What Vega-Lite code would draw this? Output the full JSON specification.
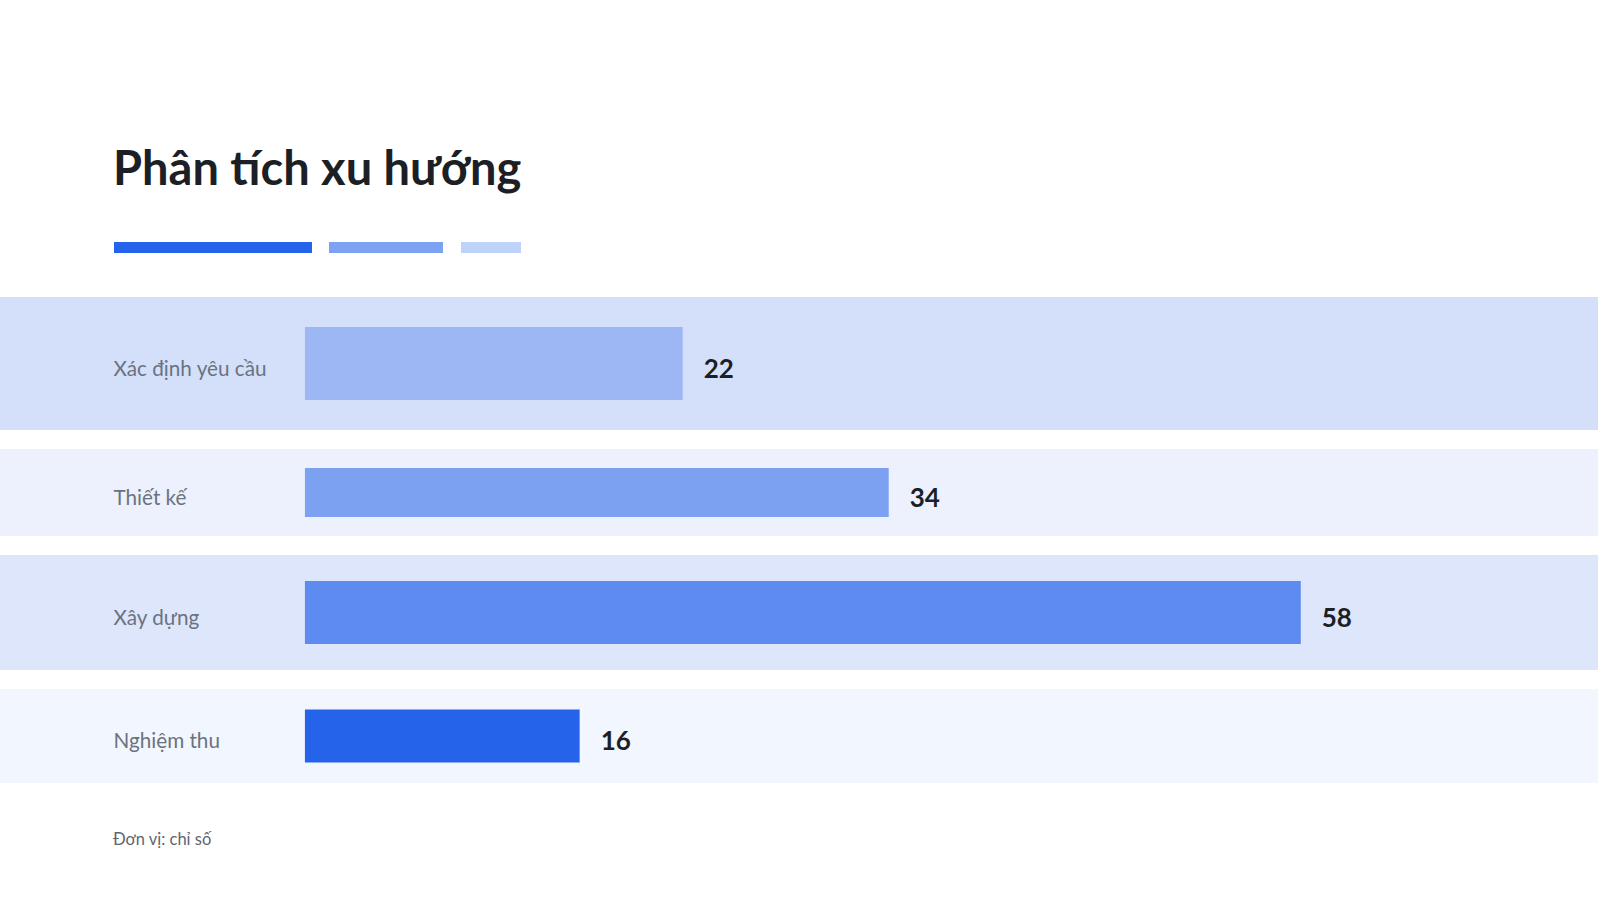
{
  "$schema": "https://vega.github.io/schema/vega-lite/v6.json",
  "background": "#ffffff",
  "padding": {"left": 0, "right": 0, "top": 147, "bottom": 0},
  "title": {
    "text": "Phân tích xu hướng",
    "anchor": "start",
    "dx": 113,
    "offset": 47,
    "font": "Lato",
    "fontSize": 47,
    "fontWeight": "bold",
    "color": "#1c1f26"
  },
  "datasets": {
    "stages": [
      {"stage": "Xác định yêu cầu", "value": 22},
      {"stage": "Thiết kế", "value": 34},
      {"stage": "Xây dựng", "value": 58},
      {"stage": "Nghiệm thu", "value": 16}
    ],
    "accent": [
      {"seg": "a", "from": 114, "to": 312},
      {"seg": "b", "from": 329, "to": 443},
      {"seg": "c", "from": 461, "to": 521}
    ]
  },
  "spacing": 44,
  "resolve": {"scale": {"x": "independent", "y": "independent"}},
  "vconcat": [
    {
      "data": {"name": "accent"},
      "width": 1598,
      "height": 11,
      "mark": "rect",
      "encoding": {
        "x": {"field": "from", "type": "quantitative", "scale": {"domain": [0, 1598], "nice": false, "zero": false}, "axis": null},
        "x2": {"field": "to"},
        "fill": {"field": "seg", "type": "nominal", "scale": {"domain": ["a", "b", "c"], "range": ["#2563EB", "#7DA2F1", "#BFD2FA"]}, "legend": null}
      }
    },
    {
      "data": {"name": "stages"},
      "spacing": 19,
      "resolve": {"scale": {"x": "independent", "y": "independent"}},
      "title": {
        "text": "Đơn vị: chỉ số",
        "orient": "bottom",
        "anchor": "start",
        "dx": 113,
        "offset": 49,
        "font": "Lato",
        "fontSize": 16.5,
        "fontWeight": "normal",
        "color": "#5f6571"
      },
      "vconcat": [
        {
          "width": 1598,
          "height": 133,
          "view": {"fill": "#D4DFFA", "stroke": null},
          "transform": [{"filter": "datum.stage === 'Xác định yêu cầu'"}],
          "encoding": {
            "y": {"field": "stage", "type": "nominal", "title": null, "scale": {"paddingInner": 0, "paddingOuter": 0},
              "axis": {"orient": "left", "offset": -113, "domain": false, "ticks": false, "tickSize": 0, "labelPadding": 0, "labelOffset": 6, "labelAlign": "left", "labelFont": "Lato", "labelFontSize": 20.7, "labelColor": "#6B7280", "labelLimit": 300}},
            "x": {"field": "value", "type": "quantitative", "scale": {"domain": [-17.76, 75.31], "nice": false}, "axis": null}
          },
          "layer": [
            {"mark": {"type": "bar", "height": {"band": 0.55}},
             "encoding": {"x2": {"datum": 0}, "color": {"field": "stage", "type": "nominal", "scale": {"domain": ["Xác định yêu cầu", "Thiết kế", "Xây dựng", "Nghiệm thu"], "range": ["#9DB7F5", "#7BA1F0", "#5D8BEF", "#2563EB"]}, "legend": null}}},
            {"mark": {"type": "text", "align": "left", "baseline": "middle", "dx": 21, "dy": 6, "font": "Lato", "fontSize": 26, "fontWeight": "bold", "color": "#1c1f26"},
             "encoding": {"text": {"field": "value"}}}
          ]
        },
        {
          "width": 1598,
          "height": 87,
          "view": {"fill": "#ECF1FD", "stroke": null},
          "transform": [{"filter": "datum.stage === 'Thiết kế'"}],
          "encoding": {
            "y": {"field": "stage", "type": "nominal", "title": null, "scale": {"paddingInner": 0, "paddingOuter": 0},
              "axis": {"orient": "left", "offset": -113, "domain": false, "ticks": false, "tickSize": 0, "labelPadding": 0, "labelOffset": 6, "labelAlign": "left", "labelFont": "Lato", "labelFontSize": 20.7, "labelColor": "#6B7280", "labelLimit": 300}},
            "x": {"field": "value", "type": "quantitative", "scale": {"domain": [-17.76, 75.31], "nice": false}, "axis": null}
          },
          "layer": [
            {"mark": {"type": "bar", "height": {"band": 0.563}},
             "encoding": {"x2": {"datum": 0}, "color": {"field": "stage", "type": "nominal", "scale": {"domain": ["Xác định yêu cầu", "Thiết kế", "Xây dựng", "Nghiệm thu"], "range": ["#9DB7F5", "#7BA1F0", "#5D8BEF", "#2563EB"]}, "legend": null}}},
            {"mark": {"type": "text", "align": "left", "baseline": "middle", "dx": 21, "dy": 6, "font": "Lato", "fontSize": 26, "fontWeight": "bold", "color": "#1c1f26"},
             "encoding": {"text": {"field": "value"}}}
          ]
        },
        {
          "width": 1598,
          "height": 115,
          "view": {"fill": "#DDE6FB", "stroke": null},
          "transform": [{"filter": "datum.stage === 'Xây dựng'"}],
          "encoding": {
            "y": {"field": "stage", "type": "nominal", "title": null, "scale": {"paddingInner": 0, "paddingOuter": 0},
              "axis": {"orient": "left", "offset": -113, "domain": false, "ticks": false, "tickSize": 0, "labelPadding": 0, "labelOffset": 6, "labelAlign": "left", "labelFont": "Lato", "labelFontSize": 20.7, "labelColor": "#6B7280", "labelLimit": 300}},
            "x": {"field": "value", "type": "quantitative", "scale": {"domain": [-17.76, 75.31], "nice": false}, "axis": null}
          },
          "layer": [
            {"mark": {"type": "bar", "height": {"band": 0.548}},
             "encoding": {"x2": {"datum": 0}, "color": {"field": "stage", "type": "nominal", "scale": {"domain": ["Xác định yêu cầu", "Thiết kế", "Xây dựng", "Nghiệm thu"], "range": ["#9DB7F5", "#7BA1F0", "#5D8BEF", "#2563EB"]}, "legend": null}}},
            {"mark": {"type": "text", "align": "left", "baseline": "middle", "dx": 21, "dy": 6, "font": "Lato", "fontSize": 26, "fontWeight": "bold", "color": "#1c1f26"},
             "encoding": {"text": {"field": "value"}}}
          ]
        },
        {
          "width": 1598,
          "height": 94,
          "view": {"fill": "#F2F6FE", "stroke": null},
          "transform": [{"filter": "datum.stage === 'Nghiệm thu'"}],
          "encoding": {
            "y": {"field": "stage", "type": "nominal", "title": null, "scale": {"paddingInner": 0, "paddingOuter": 0},
              "axis": {"orient": "left", "offset": -113, "domain": false, "ticks": false, "tickSize": 0, "labelPadding": 0, "labelOffset": 6, "labelAlign": "left", "labelFont": "Lato", "labelFontSize": 20.7, "labelColor": "#6B7280", "labelLimit": 300}},
            "x": {"field": "value", "type": "quantitative", "scale": {"domain": [-17.76, 75.31], "nice": false}, "axis": null}
          },
          "layer": [
            {"mark": {"type": "bar", "height": {"band": 0.564}},
             "encoding": {"x2": {"datum": 0}, "color": {"field": "stage", "type": "nominal", "scale": {"domain": ["Xác định yêu cầu", "Thiết kế", "Xây dựng", "Nghiệm thu"], "range": ["#9DB7F5", "#7BA1F0", "#5D8BEF", "#2563EB"]}, "legend": null}}},
            {"mark": {"type": "text", "align": "left", "baseline": "middle", "dx": 21, "dy": 6, "font": "Lato", "fontSize": 26, "fontWeight": "bold", "color": "#1c1f26"},
             "encoding": {"text": {"field": "value"}}}
          ]
        }
      ]
    }
  ],
  "config": {"view": {"stroke": null}, "font": "Lato"}
}
